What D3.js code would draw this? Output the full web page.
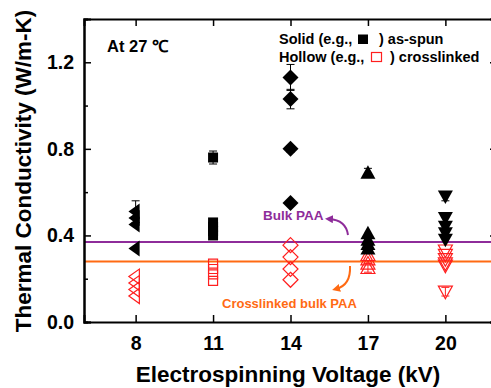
<!DOCTYPE html>
<html>
<head>
<meta charset="utf-8">
<script src="https://cdn.jsdelivr.net/npm/d3@7"></script>
<style>
  body { margin: 0; background: #fff; }
  text { font-family: Arial, "Liberation Sans", sans-serif; font-weight: bold; }
</style>
</head>
<body>
<div id="chart"></div>
<script>
// electrospinning voltage (kV)
const voltages = [8, 11, 14, 17, 20];
const yTicks = [0.0, 0.4, 0.8, 1.2];
const yMinor = [0.2, 0.6, 1.0];

// as-spun (solid) thermal conductivity, W/m-K
const solid8 = [0.51, 0.48, 0.45, 0.34];
const solid11 = [0.76, 0.46, 0.44, 0.42, 0.40];
const solid14 = [1.13, 1.03, 0.80, 0.55];
const solid17 = [0.69, 0.41, 0.38, 0.36, 0.34];
const solid20 = [0.58, 0.48, 0.44, 0.41, 0.38];
// error bars for solid points (same order)
const solidErr8 = [0.05, 0, 0, 0];
const solidErr11 = [0.03, 0, 0, 0, 0];
const solidErr14 = [0.06, 0.045, 0.015, 0.01];
const solidErr17 = [0.02, 0, 0, 0, 0];
const solidErr20 = [0.02, 0.02, 0, 0, 0];

// crosslinked (hollow)
const hollow8 = [0.21, 0.18, 0.15, 0.12];
const hollow11 = [0.27, 0.245, 0.22, 0.19];
const hollow14 = [0.355, 0.30, 0.245, 0.195];
const hollow17 = [0.31, 0.29, 0.27, 0.25];
const hollow20 = [0.33, 0.31, 0.29, 0.27, 0.26, 0.14];
const hollowErr17 = [0, 0, 0, 0.02];
const hollowErr20 = [0, 0, 0, 0, 0, 0.02];

const bulkPAA = 0.37;
const crosslinkedPAA = 0.28;

const width = 491, height = 388;
const purple = '#8e2c9a', orange = '#ff6a13', red = '#ff1f1f';

const svg = d3.select('#chart')
  .append('svg')
    .attr('width', width)
    .attr('height', height);

const x = d3.scaleLinear().domain([6, 22]).range([84, 497]);
const y = d3.scaleLinear().domain([0, 1.4]).range([322, 19]);

/* custom marker shapes (d3.symbol types) */
const shapes = {
  square: { draw(c, s) { const r = s / 2; c.rect(-r, -r, s, s); } },
  diamond: { draw(c, s) { const r = s / 2; c.moveTo(0, -r); c.lineTo(r, 0); c.lineTo(0, r); c.lineTo(-r, 0); c.closePath(); } },
  up: { draw(c, s) { const r = s / 2; c.moveTo(0, -r); c.lineTo(r, r * 0.8); c.lineTo(-r, r * 0.8); c.closePath(); } },
  down: { draw(c, s) { const r = s / 2; c.moveTo(0, r); c.lineTo(r, -r * 0.8); c.lineTo(-r, -r * 0.8); c.closePath(); } },
  left: { draw(c, s) { const r = s / 2; c.moveTo(-r * 0.9, 0); c.lineTo(r * 0.5, -r); c.lineTo(r * 0.5, r); c.closePath(); } }
};
function shapePath(type, s) {
  const p = d3.path();
  shapes[type].draw(p, s);
  return p.toString();
}

// reference lines for bulk PAA
svg.append('line')
  .attr('x1', x(6)).attr('x2', x(22))
  .attr('y1', y(bulkPAA)).attr('y2', y(bulkPAA))
  .attr('stroke', purple).attr('stroke-width', 2);
svg.append('line')
  .attr('x1', x(6)).attr('x2', x(22))
  .attr('y1', y(crosslinkedPAA)).attr('y2', y(crosslinkedPAA))
  .attr('stroke', orange).attr('stroke-width', 2);

const groups = [
  { v: 8, solid: solid8, err: solidErr8, hollow: hollow8, herr: null, shape: 'left', size: 16 },
  { v: 11, solid: solid11, err: solidErr11, hollow: hollow11, herr: null, shape: 'square', size: 10 },
  { v: 14, solid: solid14, err: solidErr14, hollow: hollow14, herr: null, shape: 'diamond', size: 16 },
  { v: 17, solid: solid17, err: solidErr17, hollow: hollow17, herr: hollowErr17, shape: 'up', size: 15 },
  { v: 20, solid: solid20, err: solidErr20, hollow: hollow20, herr: hollowErr20, shape: 'down', size: 15 }
];

const marks = svg.append('g');
groups.forEach(g => {
  const cx = x(g.v);
  // error bars
  const bars = [];
  g.solid.forEach((d, i) => { if (g.err[i]) bars.push({ d, e: g.err[i], col: '#000' }); });
  if (g.herr) g.hollow.forEach((d, i) => { if (g.herr[i]) bars.push({ d, e: g.herr[i], col: red }); });
  bars.forEach(b => {
    const eb = marks.append('g').attr('stroke', b.col).attr('stroke-width', 1);
    eb.append('line').attr('x1', cx).attr('x2', cx).attr('y1', y(b.d - b.e)).attr('y2', y(b.d + b.e));
    eb.append('line').attr('x1', cx - 4).attr('x2', cx + 4).attr('y1', y(b.d - b.e)).attr('y2', y(b.d - b.e));
    eb.append('line').attr('x1', cx - 4).attr('x2', cx + 4).attr('y1', y(b.d + b.e)).attr('y2', y(b.d + b.e));
  });
  marks.selectAll(null)
    .data(g.hollow)
    .join('path')
    .attr('transform', d => `translate(${cx},${y(d)})`)
    .attr('d', shapePath(g.shape, g.size - 1))
    .attr('fill', 'none')
    .attr('stroke', red)
    .attr('stroke-width', 1.2);
  marks.selectAll(null)
    .data(g.solid)
    .join('path')
    .attr('transform', d => `translate(${cx},${y(d)})`)
    .attr('d', shapePath(g.shape, g.size))
    .attr('fill', '#000');
});

/* axes */
const axisG = svg.append('g');
axisG.append('g')
  .attr('transform', `translate(0,${y(0)})`)
  .call(d3.axisBottom(x).tickValues(voltages).tickSize(-7).tickPadding(14).tickFormat(d3.format('d')));
axisG.append('g')
  .attr('transform', `translate(0,${y(1.4)})`)
  .call(d3.axisTop(x).tickValues(voltages).tickSize(-7).tickFormat(''));
axisG.append('g')
  .attr('transform', `translate(${x(6)},0)`)
  .call(d3.axisLeft(y).tickValues(yTicks).tickSize(-7).tickPadding(10).tickFormat(d3.format('.1f')));
axisG.append('g')
  .attr('transform', `translate(${x(6)},0)`)
  .call(d3.axisLeft(y).tickValues(yMinor).tickSize(-4).tickFormat(''));
axisG.append('g')
  .attr('transform', `translate(${x(22)},0)`)
  .call(d3.axisRight(y).tickValues(yTicks).tickSize(-7).tickFormat(''));
axisG.append('g')
  .attr('transform', `translate(${x(22)},0)`)
  .call(d3.axisRight(y).tickValues(yMinor).tickSize(-4).tickFormat(''));
axisG.selectAll('.domain').attr('stroke-width', 2);
axisG.selectAll('.tick line').attr('stroke-width', 1.5);
axisG.selectAll('.tick text').attr('font-size', 19.5).attr('font-weight', 'bold').attr('fill', '#000');

// axis titles
svg.append('text')
  .attr('x', 288).attr('y', 382)
  .attr('text-anchor', 'middle')
  .attr('font-size', 22.5)
  .text('Electrospinning Voltage (kV)');
svg.append('text')
  .attr('transform', 'translate(31,171) rotate(-90)')
  .attr('text-anchor', 'middle')
  .attr('font-size', 22.5)
  .text('Thermal Conductivity (W/m-K)');

// annotations
svg.append('text').attr('x', 107).attr('y', 52).attr('font-size', 16.5).text('At 27 ℃');

svg.append('text').attr('x', 279).attr('y', 44).attr('font-size', 14.5).text('Solid (e.g.,');
svg.append('rect').attr('x', 358).attr('y', 34.5).attr('width', 10).attr('height', 9.5).attr('fill', '#000');
svg.append('text').attr('x', 379).attr('y', 44).attr('font-size', 14.5).text(') as-spun');
svg.append('text').attr('x', 279).attr('y', 62).attr('font-size', 14.5).text('Hollow (e.g.,');
svg.append('rect').attr('x', 371.5).attr('y', 52.5).attr('width', 10).attr('height', 9)
  .attr('fill', 'none').attr('stroke', red).attr('stroke-width', 1.2);
svg.append('text').attr('x', 390).attr('y', 62).attr('font-size', 14.5).text(') crosslinked');

// arrowheads
const defs = svg.append('defs');
[['arrP', purple], ['arrO', orange]].forEach(([id, col]) => {
  defs.append('marker')
    .attr('id', id)
    .attr('viewBox', '0 0 10 10')
    .attr('refX', 5).attr('refY', 5)
    .attr('markerWidth', 4).attr('markerHeight', 4)
    .attr('orient', 'auto')
    .append('path').attr('d', 'M0,0L10,5L0,10z').attr('fill', col);
});

svg.append('text').attr('x', 263).attr('y', 220).attr('font-size', 13.5).attr('fill', purple).text('Bulk PAA');
svg.append('path')
  .attr('d', 'M348,235 Q346,220 329,219')
  .attr('fill', 'none').attr('stroke', purple).attr('stroke-width', 2)
  .attr('marker-end', 'url(#arrP)');

svg.append('text').attr('x', 222).attr('y', 308).attr('font-size', 13).attr('fill', orange).text('Crosslinked bulk PAA');
svg.append('path')
  .attr('d', 'M350,266 Q351,285 336,289')
  .attr('fill', 'none').attr('stroke', orange).attr('stroke-width', 2)
  .attr('marker-end', 'url(#arrO)');
</script>
</body>
</html>
